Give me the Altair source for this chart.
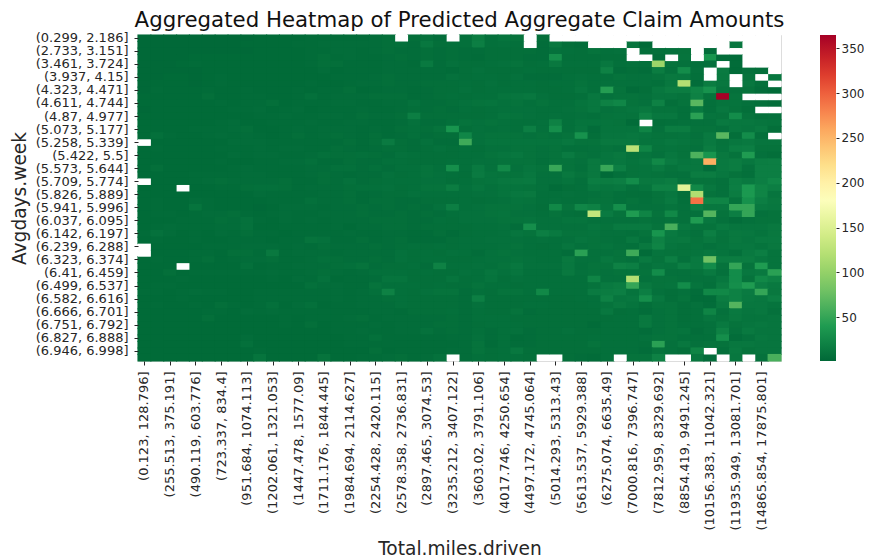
import altair as alt
import pandas as pd

_ = None
x_labels = ["(0.123, 128.796]","(255.513, 375.191]","(490.119, 603.776]","(723.337, 834.4]","(951.684, 1074.113]","(1202.061, 1321.053]","(1447.478, 1577.09]","(1711.176, 1844.445]","(1984.694, 2114.627]","(2254.428, 2420.115]","(2578.358, 2736.831]","(2897.465, 3074.53]","(3235.212, 3407.122]","(3603.02, 3791.106]","(4017.746, 4250.654]","(4497.172, 4745.064]","(5014.293, 5313.43]","(5613.537, 5929.388]","(6275.074, 6635.49]","(7000.816, 7396.747]","(7812.959, 8329.692]","(8854.419, 9491.245]","(10156.383, 11042.321]","(11935.949, 13081.701]","(14865.854, 17875.801]"]
y_labels = ["(0.299, 2.186]","(2.733, 3.151]","(3.461, 3.724]","(3.937, 4.15]","(4.323, 4.471]","(4.611, 4.744]","(4.87, 4.977]","(5.073, 5.177]","(5.258, 5.339]","(5.422, 5.5]","(5.573, 5.644]","(5.709, 5.774]","(5.826, 5.889]","(5.941, 5.996]","(6.037, 6.095]","(6.142, 6.197]","(6.239, 6.288]","(6.323, 6.374]","(6.41, 6.459]","(6.499, 6.537]","(6.582, 6.616]","(6.666, 6.701]","(6.751, 6.792]","(6.827, 6.888]","(6.946, 6.998]"]
cbar_ticks = [50, 100, 150, 200, 250, 300, 350]
cmap_colors = ["#006837","#1a9850","#66bd63","#a6d96a","#d9ef8b","#ffffbf","#fee08b","#fdae61","#f46d43","#d73027","#a50026"]
cmap_stops = [1, 37.4, 73.8, 110.2, 146.6, 183, 219.4, 255.8, 292.2, 328.6, 365]

grid = [
[2,2,2,2,2,2,2,2,2,3, 3,3,3,4,4,4,4,4,5,6, _,6,8,5,_, 7,16,7,10,9, _,6,_,_,_,_,_,_,_,_, _,_,_,_,_,_,_,_,_,_],
[2,2,2,2,2,2,2,2,3,3, 3,3,4,4,5,5,5,5,5,6, 7,5,12,6,7, 7,18,7,8,7, _,5,13,6,5, _,_,_,11,3, _,_,_,_,_,_,12,_,_,_],
[2,2,2,2,2,2,2,2,2,3, 3,3,3,4,4,5,5,4,5,6, 5,5,6,5,6, 5,5,6,6,6, 6,5,8,7,6, 9,7,8,_,6, 7,8,9,_,5,_,_,_,_,_],
[2,2,2,2,3,3,3,3,3,3, 3,3,3,4,6,4,5,4,4,5, 6,5,6,5,6, 5,4,6,6,6, 5,5,30,6,6, 6,6,6,_,_, 5,_,10,_,35,4,4,_,_,_],
[2,2,2,3,4,3,3,3,3,3, 3,3,3,4,6,6,4,4,4,5, 5,4,14,5,8, 6,6,7,8,9, 6,7,13,7,7, 7,12,7,8,7, 105,9,8,7,7,_,4,_,_,_],
[2,2,2,2,2,3,3,3,3,3, 3,3,3,3,5,3,4,4,4,5, 5,5,5,5,4, 6,8,6,6,6, 7,6,6,6,6, 6,20,5,6,5, 16,8,28,8,_,15,3,7,6,_],
[2,2,3,3,2,3,4,3,3,3, 3,3,3,3,3,4,4,4,5,6, 5,5,5,5,8, 6,7,7,6,8, 5,5,5,7,8, 7,7,9,8,8, 9,13,12,7,_,14,_,9,_,12],
[2,3,3,3,2,3,4,3,3,3, 3,3,3,4,3,3,4,5,5,6, 5,5,6,6,6, 7,6,8,6,7, 7,6,7,7,9, 7,8,8,8,8, 7,12,120,5,16,12,_,12,7,_],
[2,4,3,3,3,4,3,3,4,3, 3,3,4,3,4,4,6,3,4,5, 5,4,5,6,6, 8,6,7,7,7, 7,6,6,7,11, 7,42,9,4,6, 12,16,16,22,33,10,8,9,5,3],
[3,3,3,3,3,6,3,3,4,4, 3,3,4,7,4,5,5,5,6,6, 6,4,5,6,7, 6,7,7,10,11, 12,8,6,6,7, 12,8,9,9,8, 11,11,9,20,9,365,10,_,_,_],
[3,3,3,3,3,3,4,3,4,4, 6,3,4,4,4,5,5,4,4,5, 5,8,5,5,6, 8,9,10,8,9, 7,9,7,7,10, 12,20,24,9,8, 20,6,9,68,7,10,10,8,7,5],
[2,3,3,3,3,3,3,4,4,5, 3,4,5,3,4,4,4,5,4,4, 5,6,5,6,5, 7,6,7,8,8, 8,7,7,8,9, 12,8,9,11,13, 9,9,7,14,7,12,9,6,_,_],
[3,3,3,3,3,3,3,3,3,4, 4,5,4,4,5,5,4,6,5,5, 6,18,6,6,6, 6,6,7,10,9, 8,7,8,7,8, 7,9,10,9,20, 12,12,7,45,10,9,28,9,7,8],
[3,3,3,3,3,3,4,5,3,3, 4,4,4,5,4,4,5,5,4,4, 5,8,5,5,7, 9,8,9,8,7, 7,8,20,7,10, 10,10,9,4,_, 6,7,8,8,8,14,12,12,11,10],
[3,3,3,3,4,4,4,5,6,3, 3,4,5,4,5,5,5,4,5,4, 6,7,6,9,35, 6,8,7,8,7, 18,8,30,7,11, 5,10,10,10,22, 8,16,16,9,9,8,12,11,14,6],
[3,7,4,3,3,4,5,4,5,4, 3,4,6,4,5,6,5,4,6,4, 5,7,5,6,6, 24,8,9,9,9, 8,9,8,9,33, 6,11,11,12,11, 9,9,10,8,14,68,6,28,7,_],
[_,3,3,3,3,3,3,5,5,5, 4,4,4,4,4,4,6,4,6,15, 6,5,8,5,5, 55,8,10,10,10, 10,10,10,12,9, 9,13,13,13,10, 10,12,11,9,14,9,12,14,11,11],
[3,4,3,3,3,3,4,4,4,5, 4,5,5,4,4,6,5,4,5,6, 6,5,6,8,6, 7,6,8,8,9, 9,8,9,7,7, 8,9,8,125,22, 9,10,9,8,16,10,17,18,9,9],
[3,3,3,3,3,3,3,5,4,5, 5,4,4,5,7,6,6,7,6,5, 8,7,6,6,6, 7,7,9,11,12, 9,8,9,15,9, 8,11,13,9,10, 8,12,9,62,35,13,9,40,8,6],
[3,3,3,3,3,3,4,3,3,4, 4,5,5,7,4,4,6,5,5,7, 7,6,6,6,7, 7,8,8,9,9, 9,7,9,9,8, 13,11,12,10,12, 25,15,11,12,255,14,16,12,17,18],
[3,6,3,3,3,3,3,4,5,4, 4,4,4,5,5,7,7,5,7,5, 7,7,9,7,30, 7,14,8,26,8, 11,9,52,9,7, 13,52,18,9,10, 14,9,12,12,5,14,16,8,18,18],
[3,3,3,3,4,4,4,4,5,5, 4,4,4,5,6,5,4,5,5,8, 6,7,9,8,7, 6,15,10,9,9, 12,8,8,13,9, 13,3,7,9,10, 9,8,8,16,16,12,9,7,18,18],
[_,3,3,3,4,5,6,5,5,5, 5,6,4,4,6,5,8,5,6,7, 7,7,8,8,6, 7,9,10,12,13, 14,8,8,10,7, 17,16,18,28,13, 14,16,9,9,9,8,17,14,18,24],
[3,3,3,_,3,3,4,4,6,7, 7,6,4,5,5,5,6,7,7,8, 6,7,9,9,16, 8,11,8,10,10, 9,8,4,6,7, 12,11,12,8,10, 20,20,155,25,12,8,18,38,22,18],
[3,3,3,3,3,3,3,3,3,5, 4,4,4,4,5,5,6,4,5,6, 6,8,7,7,7, 7,8,8,10,12, 13,7,7,8,7, 8,9,7,6,6, 9,12,6,118,9,8,16,38,22,11],
[3,4,3,3,5,4,3,3,3,3, 4,4,4,7,5,5,6,4,6,6, 5,5,6,6,6, 7,6,7,8,10, 9,7,8,7,7, 9,9,7,9,7, 9,14,7,290,22,22,9,32,18,13],
[3,4,3,3,10,4,3,3,3,2, 3,5,5,5,4,5,5,6,5,6, 5,6,5,8,18, 7,8,9,9,9, 8,6,25,9,24, 20,10,30,8,8, 8,10,8,18,12,12,50,50,14,12],
[3,4,4,3,4,5,5,6,4,3, 4,5,4,4,5,5,5,6,5,5, 6,5,6,5,7, 8,8,9,10,8, 8,7,9,7,6, 130,15,9,40,22, 9,25,8,8,65,9,18,50,8,9],
[3,3,3,4,4,4,6,5,8,4, 3,5,4,5,4,5,5,5,6,6, 6,5,5,7,6, 8,8,8,9,9, 10,8,8,10,10, 8,8,8,8,9, 8,9,8,40,12,8,5,8,9,9],
[3,4,5,4,4,4,5,5,8,3, 3,4,4,4,4,5,3,5,5,6, 6,5,6,6,6, 6,7,7,8,5, 30,8,8,8,8, 11,9,14,14,14, 9,60,12,9,9,14,11,11,11,13],
[4,8,5,3,4,3,5,4,6,4, 4,3,4,4,4,4,5,4,4,5, 5,4,4,6,4, 6,7,7,8,11, 9,18,14,9,9, 10,8,8,7,9, 35,14,10,8,18,10,13,12,10,13],
[3,4,3,3,4,3,3,4,4,4, 3,4,4,9,8,4,4,6,4,5, 6,4,4,4,6, 7,7,8,8,8, 7,8,7,8,11, 9,8,7,12,7, 20,12,13,9,13,9,13,11,14,14],
[_,3,3,3,3,4,4,4,5,5, 5,4,5,4,6,5,5,5,6,5, 6,7,6,7,6, 7,7,7,8,9, 7,6,7,11,8, 9,10,8,7,13, 22,11,9,10,8,10,12,12,10,13],
[_,3,3,3,4,4,3,6,6,4, 13,4,5,5,5,4,5,5,5,5, 8,6,7,6,8, 7,5,8,9,8, 7,7,7,5,45, 8,8,9,55,4, 10,9,9,10,12,10,7,14,18,10],
[3,4,3,3,4,6,3,4,5,5, 6,4,4,5,7,6,5,5,6,5, 8,6,7,7,6, 6,7,8,8,9, 8,7,7,13,8, 8,12,9,8,14, 9,18,8,14,80,16,16,16,12,10],
[3,3,3,_,3,3,3,3,7,3, 4,4,5,5,5,6,7,9,5,6, 6,7,5,20,7, 7,8,7,9,12, 8,8,8,12,7, 9,9,20,18,8, 11,10,18,14,28,9,50,9,40,10],
[3,3,6,3,4,4,4,4,4,4, 5,4,4,5,6,5,4,5,7,7, 7,6,7,6,6, 8,7,11,8,11, 7,7,7,13,8, 9,8,9,9,9, 28,8,8,9,14,8,28,12,14,45],
[3,3,3,4,3,3,3,3,3,3, 4,3,5,4,8,3,4,4,5,10, 10,6,6,6,10, 6,7,10,6,8, 7,7,7,7,7, 22,8,8,120,8, 9,9,8,8,8,12,28,9,25,20],
[3,4,4,3,3,3,3,3,3,3, 3,3,3,7,5,5,4,4,9,7, 7,7,6,7,6, 6,9,7,7,6, 7,7,7,7,7, 9,14,16,50,13, 9,10,28,10,7,16,30,40,18,14],
[4,4,3,4,5,4,4,3,3,4, 4,4,4,4,4,5,4,5,7,20, 7,6,8,9,9, 5,7,6,9,9, 7,25,7,7,7, 15,16,18,10,18, 8,6,8,5,25,25,20,15,50,13],
[3,3,3,4,3,3,3,3,3,4, 4,4,4,4,4,5,4,5,5,6, 7,6,6,6,6, 5,18,6,6,6, 6,6,6,6,7, 7,20,11,12,30, 12,6,9,4,4,16,20,14,12,18],
[3,4,3,3,4,3,6,4,3,4, 7,3,5,7,3,4,4,5,5,5, 7,6,6,6,6, 5,8,6,6,6, 7,7,6,6,6, 7,9,13,10,6, 9,9,6,8,5,13,65,12,12,10],
[3,3,3,3,3,4,4,3,5,4, 5,4,4,4,4,4,4,4,5,5, 4,6,6,6,7, 5,7,6,6,9, 5,6,6,6,6, 6,12,6,7,5, 8,9,6,7,22,8,14,11,12,8],
[3,3,3,3,3,6,3,3,3,3, 3,4,3,4,4,4,5,6,4,5, 5,5,5,5,6, 5,7,7,7,6, 6,6,6,6,6, 6,6,7,7,13, 8,9,6,7,11,9,13,10,10,11],
[3,3,3,3,3,3,3,3,3,3, 3,4,3,6,3,4,4,4,5,4, 5,5,5,6,6, 5,6,7,7,7, 6,6,6,6,6, 4,7,7,7,13, 8,9,7,7,8,14,9,11,12,11],
[3,3,3,3,3,3,3,3,3,3, 3,3,3,3,3,4,4,5,4,4, 5,5,8,5,6, 5,7,5,7,8, 5,6,6,8,6, 6,7,7,7,5, 8,9,10,5,8,20,8,14,11,11],
[3,3,3,3,3,3,3,3,5,3, 3,3,3,3,3,3,4,4,7,4, 4,4,4,4,5, 5,8,5,7,4, 5,6,6,6,6, 7,7,7,7,8, 9,9,7,7,7,30,5,8,12,11],
[3,3,3,3,3,3,3,3,7,3, 3,3,3,3,3,3,4,4,4,4, 4,4,4,4,4, 5,9,4,7,5, 5,6,6,6,6, 9,7,7,7,6, 45,8,12,8,9,9,12,12,11,11],
[3,3,3,3,3,3,3,3,3,4, 3,3,3,3,3,3,3,3,6,3, 4,4,4,4,5, 5,9,6,7,12, 6,6,6,6,6, 6,7,7,7,5, 9,8,6,22,_,7,14,9,11,11],
[3,3,3,3,3,3,3,3,3,10, 3,3,3,3,9,3,3,4,4,5, 6,4,5,8,_, 5,7,6,7,7, 6,_,_,6,5, 4,7,_,9,9, 20,_,_,12,5,_,12,_,8,60],
]

records = [
    {"r": r, "c": c, "v": v}
    for r, row in enumerate(grid)
    for c, v in enumerate(row)
    if v is not None
]
gaps = [
    {"r": r, "c": c}
    for r, row in enumerate(grid)
    for c, v in enumerate(row)
    if v is None
]
df = pd.DataFrame(records)
gap_df = pd.DataFrame(gaps)

FONT = "DejaVu Sans"
TXT = "#262626"
color_scale = alt.Scale(domain=cmap_stops, range=cmap_colors, interpolate="rgb")
band = alt.Scale(domain=list(range(50)), paddingInner=0, paddingOuter=0)

x_expr = "[" + ",".join(f"'{s}'" for s in x_labels) + "][datum.value/2]"
y_expr = "[" + ",".join(f"'{s}'" for s in y_labels) + "][datum.value/2]"

heat = alt.Chart(df).mark_rect(width=14, height=7.6).encode(
    x=alt.X("c:O", scale=band,
            axis=alt.Axis(values=list(range(0, 50, 2)), labelExpr=x_expr, labelAngle=-90,
                          title="Total.miles.driven", domain=False, grid=False, tickSize=4,
                          tickColor=TXT, labelColor=TXT, labelFontSize=13, labelFont=FONT,
                          labelPadding=6, titleFontSize=18.6, titleFont=FONT, titleFontWeight="normal",
                          titleColor=TXT, titleY=187, titleBaseline="middle", labelOverlap=False, labelLimit=300)),
    y=alt.Y("r:O", scale=band,
            axis=alt.Axis(values=list(range(0, 50, 2)), labelExpr=y_expr,
                          title="Avgdays.week", domain=False, grid=False, tickSize=4,
                          tickColor=TXT, labelColor=TXT, labelFontSize=13, labelFont=FONT,
                          labelPadding=6, titleFontSize=18.6, titleFont=FONT, titleFontWeight="normal",
                          titleColor=TXT, titleX=-109, labelOverlap=False, labelLimit=300)),
    color=alt.Color("v:Q", scale=color_scale,
                    legend=alt.Legend(orient="none", legendX=682, legendY=0, gradientLength=326,
                                      gradientThickness=16, title=None, labelOpacity=0,
                                      labelExpr="''", gradientStrokeWidth=0, tickCount=2)),
)

missing = alt.Chart(gap_df).mark_rect(color="white").encode(
    x=alt.X("c:O", scale=band),
    y=alt.Y("r:O", scale=band, axis=None),
)

cbar_axis = alt.Chart(pd.DataFrame({"v": cbar_ticks})).mark_rule(opacity=0).encode(
    y=alt.Y("v:Q", scale=alt.Scale(domain=[cmap_stops[0], cmap_stops[-1]], nice=False, zero=False),
            axis=alt.Axis(values=cbar_ticks, orient="right", offset=55, title=None, domain=False,
                          grid=False, tickSize=3, tickColor=TXT, labelColor=TXT, labelFontSize=12,
                          labelFont=FONT, labelPadding=2)),
)

chart = alt.layer(heat, missing, cbar_axis).resolve_scale(y="independent", color="independent").properties(
    width=643, height=326,
    title=alt.TitleParams("Aggregated Heatmap of Predicted Aggregate Claim Amounts", font=FONT,
                          fontSize=21.3, fontWeight="normal", color="#111111", anchor="middle", offset=0),
    autosize=alt.AutoSizeParams(type="none"),
    padding={"left": 130, "top": 27, "right": 83, "bottom": 197},
).configure_view(stroke=None).configure(background="white")

chart.save("out.html", embed_options={"renderer": "svg", "actions": False})
